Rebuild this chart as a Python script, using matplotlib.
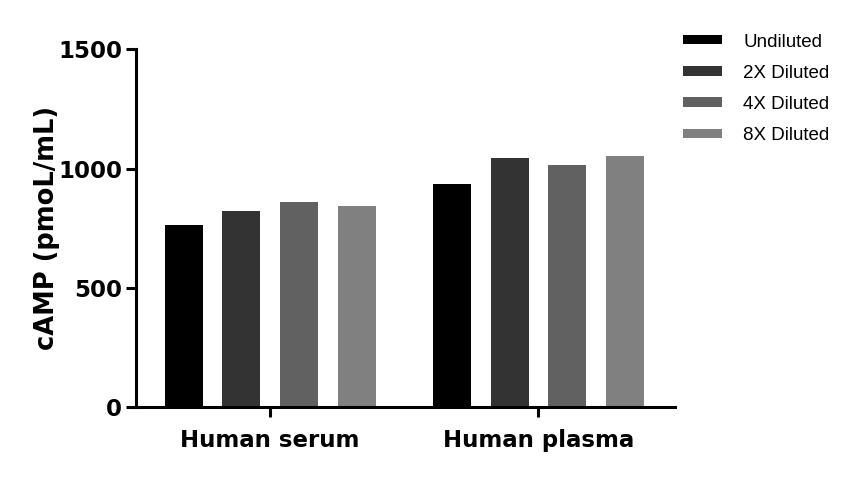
import matplotlib
matplotlib.use("Agg")
import matplotlib.pyplot as plt
import numpy as np

# data
groups = ["Human serum", "Human plasma"]
series = ["Undiluted", "2X Diluted", "4X Diluted", "8X Diluted"]
serum_vals = [762, 821, 859, 842]
plasma_vals = [934, 1045, 1014, 1052]
colors = ["#000000", "#333333", "#616161", "#808080"]
yticks = [0, 500, 1000, 1500]

values = np.array([serum_vals, plasma_vals])  # groups x series

fig = plt.figure(figsize=(8.58, 4.78), dpi=100)
ax = fig.add_axes([0.1585, 0.1485, 0.6285, 0.7484])

x = np.arange(len(groups))
step = 0.215
width = 0.142
for j, name in enumerate(series):
    offs = (j - 1.5) * step
    ax.bar(x + offs, values[:, j], width=width, color=colors[j],
           label=name, zorder=2)

ax.set_xlim(-0.5, 1.51)
ax.set_ylim(0, 1500)
ax.set_yticks(yticks)
ax.set_xticks(x)
ax.set_xticklabels(groups)

for side in ("top", "right"):
    ax.spines[side].set_visible(False)
for side in ("left", "bottom"):
    ax.spines[side].set_linewidth(2.2)

ax.tick_params(axis="y", width=2.2, length=7, labelsize=16.5, pad=3)
ax.tick_params(axis="x", width=2.2, length=7, labelsize=16.5, pad=9)
for lab in ax.get_yticklabels() + ax.get_xticklabels():
    lab.set_fontweight("bold")
    lab.set_family("DejaVu Sans")

ax.set_ylabel("cAMP (pmoL/mL)", fontsize=18.5, fontweight="bold",
              family="DejaVu Sans")
ax.yaxis.set_label_coords(-0.141, 0.5)

leg = fig.legend(loc="upper left", bbox_to_anchor=(0.7765, 0.965),
                 frameon=False,
                 handlelength=2.08, handleheight=0.37,
                 handletextpad=1.12, labelspacing=0.75,
                 prop={"family": "Liberation Sans", "size": 13.5})

fig.savefig("out.png", dpi=100, facecolor="white")
